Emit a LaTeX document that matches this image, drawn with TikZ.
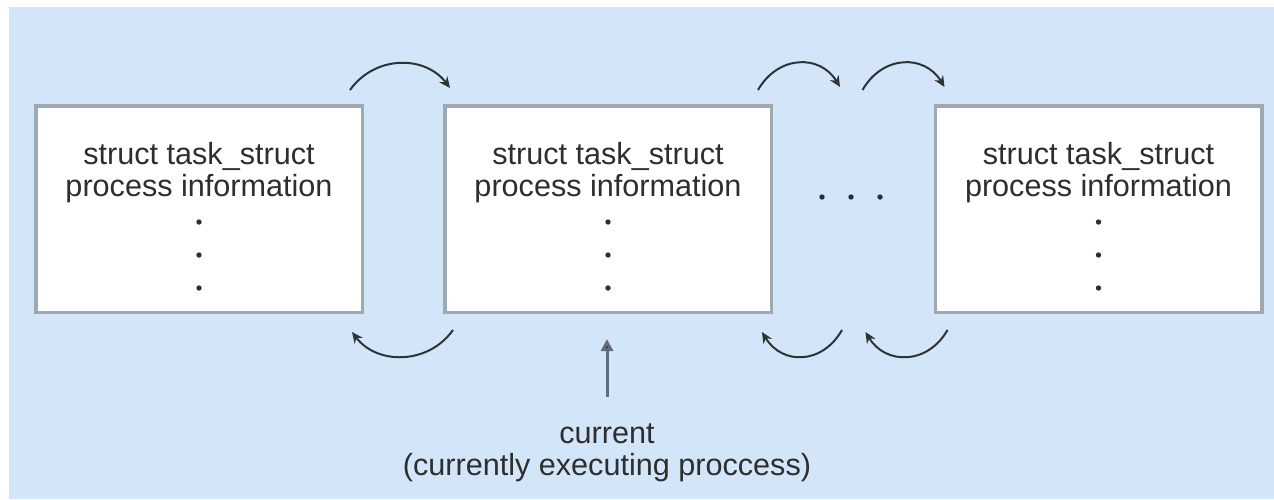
\documentclass[tikz,border=0pt]{standalone}
\usepackage{fontspec}
\setmainfont{Liberation Sans}
\usetikzlibrary{arrows.meta,calc}
\definecolor{bg}{HTML}{D3E6F9}
\definecolor{boxgray}{HTML}{A0A8B1}
\definecolor{textc}{HTML}{2E2E2E}
\definecolor{arcc}{HTML}{303336}
\definecolor{upc}{HTML}{646C75}
\tikzset{
  box/.style={draw=boxgray, line width=3.5pt, fill=white, minimum width=326.5pt, minimum height=206.5pt, inner sep=0pt},
  txt/.style={font=\fontsize{30.6}{32}\selectfont, align=center, text=textc, inner sep=0pt},
  arc/.style={draw=arcc, line width=2pt, -{Stealth[length=11pt,width=10pt]}},
  uparrow/.style={draw=upc, line width=3pt, -{Triangle[length=12pt,width=12pt,fill=arcc]}},
  dotc/.style={fill=textc}
}
\begin{document}
\begin{tikzpicture}[x=1pt,y=-1pt]
\useasboundingbox (0,0) rectangle (1274,499);
\fill[bg] (9,7) rectangle (1274,499);

\node[box] (b1) at (199,209) {};
\node[box] (b2) at (608,209) {};
\node[box] (b3) at (1098.5,209) {};

\node[txt] (t1) at (199,173) {struct task\_struct\\process information};
\node[txt] (t2) at (608,173) {struct task\_struct\\process information};
\node[txt] (t3) at (1098.5,173) {struct task\_struct\\process information};

\foreach \x in {199,608,1098.5}{
  \foreach \y in {222,255,288}{
    \fill[dotc] (\x,\y) circle (2.7);
  }
}
\foreach \x in {822,851,880}{
  \fill[dotc] (\x,197) circle (2.7);
}

% top arcs
\draw[arc] ($(b1.north east)+(-14,-14)$) .. controls +(25,-35) and +(-25,-33) .. ($(b2.north west)+(7,-16)$);
\draw[arc] ($(b2.north east)+(-15,-14)$) .. controls +(20,-35) and +(-20,-33) .. ($(b2.north east)+(67,-17)$);
\draw[arc] ($(b3.north west)+(-71,-14)$) .. controls +(20,-35) and +(-20,-33) .. ($(b3.north west)+(11,-17)$);
% bottom arcs
\draw[arc] ($(b2.south west)+(10,16)$) .. controls +(-25,35) and +(25,33) .. ($(b1.south east)+(-12,18)$);
\draw[arc] ($(b2.south east)+(69,16)$) .. controls +(-20,35) and +(20,33) .. ($(b2.south east)+(-11,18)$);
\draw[arc] ($(b3.south west)+(14,16)$) .. controls +(-20,35) and +(20,33) .. ($(b3.south west)+(-68,18)$);

\node[txt] (lab) at (607,453) {current\\(currently executing proccess)};
\draw[uparrow] ($(lab.north)+(0,-27)$) -- ($(b2.south)+(-1,25)$);
\end{tikzpicture}
\end{document}
